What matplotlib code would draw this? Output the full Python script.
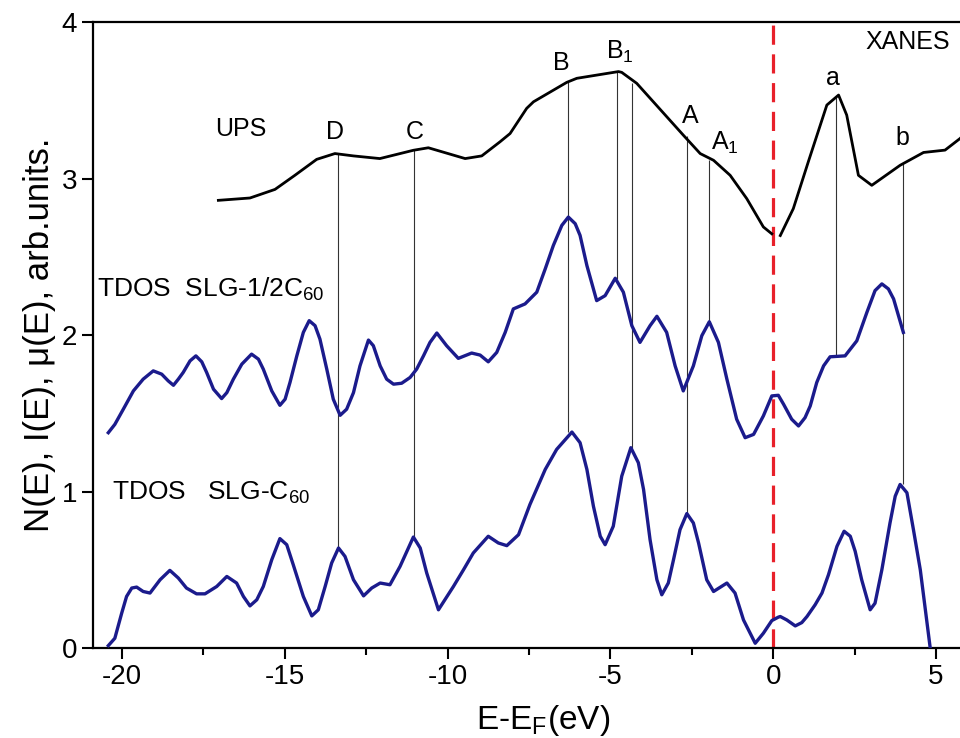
import matplotlib
matplotlib.use("Agg")
import matplotlib.pyplot as plt

plt.rcParams['font.family'] = ['Liberation Sans', 'DejaVu Sans']
plt.rcParams['mathtext.fontset'] = 'custom'
plt.rcParams['mathtext.rm'] = 'Liberation Sans'
plt.rcParams['mathtext.it'] = 'Liberation Sans:italic'
plt.rcParams['axes.unicode_minus'] = False

# UPS (valence band) and XANES curves
ups_x = [-17.04, -16.07, -15.30, -14.69, -14.02, -13.46, -12.89, -12.08, -11.05, -10.59,
         -9.46, -8.95, -8.39, -8.08, -7.57, -7.36, -6.34, -6.03, -4.75, -4.65, -4.19,
         -3.68, -2.76, -2.24, -1.83, -1.32, -0.81, -0.30, -0.04]
ups_y = [2.861, 2.876, 2.931, 3.021, 3.123, 3.160, 3.145, 3.128, 3.181, 3.197,
         3.128, 3.145, 3.235, 3.288, 3.449, 3.491, 3.615, 3.641, 3.684, 3.679, 3.609,
         3.491, 3.278, 3.160, 3.117, 3.021, 2.872, 2.691, 2.647]
xanes_x = [0.22, 0.62, 1.08, 1.65, 2.01, 2.26, 2.62, 3.03, 3.90, 4.62, 5.28, 5.74, 6.1]
xanes_y = [2.636, 2.808, 3.107, 3.470, 3.534, 3.406, 3.021, 2.957, 3.085, 3.167, 3.182, 3.256, 3.33]

# TDOS SLG-1/2C60
half_x = [-20.42, -20.22, -19.96, -19.65, -19.35, -19.04, -18.78, -18.58, -18.42, -18.27,
          -18.12, -17.91, -17.73, -17.55, -17.40, -17.19, -16.94, -16.78, -16.58, -16.32,
          -16.02, -15.81, -15.66, -15.40, -15.15, -14.99, -14.84, -14.63, -14.43, -14.25,
          -14.07, -13.92, -13.71, -13.51, -13.30, -13.10, -12.89, -12.69, -12.43, -12.28,
          -12.07, -11.87, -11.66, -11.41, -11.15, -10.95, -10.74, -10.54, -10.33, -10.03,
          -9.67, -9.26, -9.00, -8.75, -8.49, -8.23, -7.98, -7.62, -7.26, -7.00,
          -6.75, -6.49, -6.29, -6.08, -5.93, -5.72, -5.42, -5.16, -4.85, -4.60,
          -4.34, -4.09, -3.78, -3.57, -3.27, -3.01, -2.76, -2.45, -2.19, -1.96,
          -1.68, -1.42, -1.12, -0.86, -0.60, -0.30, -0.04, 0.16, 0.32, 0.57,
          0.78, 0.98, 1.14, 1.34, 1.55, 1.75, 2.21, 2.57, 2.88, 3.13,
          3.34, 3.54, 3.70, 4.00]
half_y = [1.376, 1.429, 1.526, 1.643, 1.718, 1.771, 1.750, 1.707, 1.679, 1.718,
          1.761, 1.835, 1.867, 1.829, 1.761, 1.654, 1.594, 1.632, 1.718, 1.814,
          1.878, 1.846, 1.782, 1.643, 1.551, 1.590, 1.697, 1.867, 2.017, 2.092,
          2.060, 1.974, 1.782, 1.590, 1.487, 1.526, 1.632, 1.803, 1.968, 1.932,
          1.803, 1.718, 1.686, 1.692, 1.729, 1.782, 1.867, 1.953, 2.013, 1.932,
          1.851, 1.885, 1.872, 1.829, 1.889, 2.017, 2.167, 2.199, 2.274, 2.423,
          2.573, 2.701, 2.754, 2.712, 2.637, 2.444, 2.220, 2.252, 2.363, 2.274,
          2.060, 1.953, 2.060, 2.120, 2.017, 1.803, 1.643, 1.803, 1.996, 2.085,
          1.953, 1.718, 1.462, 1.344, 1.365, 1.483, 1.611, 1.615, 1.558, 1.462,
          1.419, 1.472, 1.547, 1.697, 1.803, 1.861, 1.867, 1.963, 2.145, 2.284,
          2.327, 2.295, 2.231, 2.017]

# TDOS SLG-C60
full_x = [-20.42, -20.22, -20.01, -19.86, -19.70, -19.55, -19.35, -19.14, -18.83, -18.53,
          -18.27, -18.02, -17.71, -17.45, -17.09, -16.78, -16.48, -16.27, -16.07, -15.86,
          -15.66, -15.40, -15.15, -14.94, -14.74, -14.43, -14.17, -13.97, -13.76, -13.56,
          -13.35, -13.15, -12.89, -12.58, -12.33, -12.07, -11.77, -11.46, -11.05, -10.84,
          -10.64, -10.28, -9.82, -9.51, -9.21, -8.75, -8.44, -8.18, -7.82, -7.47,
          -7.00, -6.65, -6.18, -5.93, -5.72, -5.52, -5.31, -5.16, -4.91, -4.65,
          -4.37, -4.14, -3.98, -3.78, -3.57, -3.42, -3.22, -3.06, -2.86, -2.65,
          -2.45, -2.29, -2.04, -1.83, -1.42, -1.17, -0.91, -0.55, -0.30, -0.04,
          0.16, 0.22, 0.42, 0.68, 0.88, 1.04, 1.29, 1.50, 1.70, 1.96,
          2.18, 2.37, 2.52, 2.72, 2.98, 3.13, 3.34, 3.59, 3.75, 3.90,
          4.11, 4.31, 4.52, 4.82]
full_y = [0.015, 0.062, 0.222, 0.329, 0.383, 0.389, 0.361, 0.351, 0.436, 0.496,
          0.447, 0.383, 0.346, 0.346, 0.393, 0.457, 0.415, 0.329, 0.269, 0.308,
          0.393, 0.564, 0.699, 0.660, 0.532, 0.329, 0.205, 0.244, 0.393, 0.543,
          0.639, 0.585, 0.436, 0.333, 0.383, 0.415, 0.404, 0.521, 0.709, 0.639,
          0.479, 0.244, 0.393, 0.500, 0.607, 0.714, 0.671, 0.654, 0.724, 0.917,
          1.141, 1.269, 1.380, 1.312, 1.141, 0.906, 0.714, 0.660, 0.778, 1.098,
          1.280, 1.184, 1.013, 0.692, 0.436, 0.340, 0.415, 0.564, 0.756, 0.859,
          0.799, 0.671, 0.436, 0.361, 0.415, 0.351, 0.179, 0.030, 0.094, 0.175,
          0.197, 0.201, 0.179, 0.141, 0.162, 0.201, 0.276, 0.351, 0.468, 0.649,
          0.746, 0.714, 0.618, 0.436, 0.244, 0.286, 0.500, 0.799, 0.970, 1.045,
          0.992, 0.756, 0.500, 0.008]

# thin guide lines linking features
mark_x = [-13.36, -11.03, -6.30, -4.79, -4.33, -2.64, -1.97, 1.94, 3.99]
mark_top = [3.16, 3.19, 3.615, 3.684, 3.61, 3.27, 3.12, 3.53, 3.10]
mark_bot = [0.641, 0.71, 1.38, 2.36, 1.28, 0.86, 2.09, 1.87, 1.045]

fig = plt.figure(figsize=(9.6, 7.38), dpi=100)
ax = fig.add_axes([0.0969, 0.122, 0.9031, 0.848])

navy = '#1b1b8c'
ax.vlines(mark_x, mark_bot, mark_top, colors='#333333', linewidth=0.8, zorder=1)
ax.plot(ups_x, ups_y, color='black', linewidth=2.0, zorder=3)
ax.plot(xanes_x, xanes_y, color='black', linewidth=2.0, zorder=3)
ax.plot(half_x, half_y, color=navy, linewidth=2.4, zorder=3, solid_joinstyle='round')
ax.plot(full_x, full_y, color=navy, linewidth=2.4, zorder=3, solid_joinstyle='round')
ax.axvline(0, color='#e8202a', linewidth=2.3, linestyle=(0, (6, 3)), zorder=2)

fs = 18
ax.text(-17.15, 3.32, 'UPS', fontsize=fs, va='center')
ax.text(-13.45, 3.30, 'D', fontsize=fs, ha='center', va='center')
ax.text(-11.0, 3.30, 'C', fontsize=fs, ha='center', va='center')
ax.text(-6.5, 3.74, 'B', fontsize=fs, ha='center', va='center')
ax.text(-4.72, 3.81, r'B$_\mathregular{1}$', fontsize=fs, ha='center', va='center')
ax.text(-2.55, 3.40, 'A', fontsize=fs, ha='center', va='center')
ax.text(-1.48, 3.23, r'A$_\mathregular{1}$', fontsize=fs, ha='center', va='center')
ax.text(1.84, 3.64, 'a', fontsize=fs, ha='center', va='center')
ax.text(3.96, 3.26, 'b', fontsize=fs, ha='center', va='center')
ax.text(2.83, 3.87, 'XANES', fontsize=fs, va='center')
ax.text(-20.77, 2.29, r'TDOS  SLG-1/2C$_\mathregular{60}$', fontsize=19, va='center')
ax.text(-20.3, 0.99, r'TDOS   SLG-C$_\mathregular{60}$', fontsize=19, va='center')

ax.set_xlim(-20.89, 5.74)
ax.set_ylim(0, 4)
ax.set_xticks([-20, -15, -10, -5, 0, 5])
ax.set_xticks([-17.5, -12.5, -7.5, -2.5, 2.5], minor=True)
ax.set_yticks([0, 1, 2, 3, 4])
ax.tick_params(axis='both', which='major', direction='out', length=8, width=1.5, labelsize=20)
ax.tick_params(axis='x', which='minor', direction='out', length=5, width=1.5)
ax.spines['right'].set_visible(False)
for s in ['left', 'bottom', 'top']:
    ax.spines[s].set_linewidth(1.6)

ax.set_xlabel(r'E-E$_\mathregular{F}$(eV)', fontsize=24)
ax.xaxis.set_label_coords(0.519, -0.088)
ax.set_ylabel(u'N(E), I(E), \u03bc(E), arb.units.', fontsize=25, labelpad=4)

fig.savefig('out.png', dpi=100)
